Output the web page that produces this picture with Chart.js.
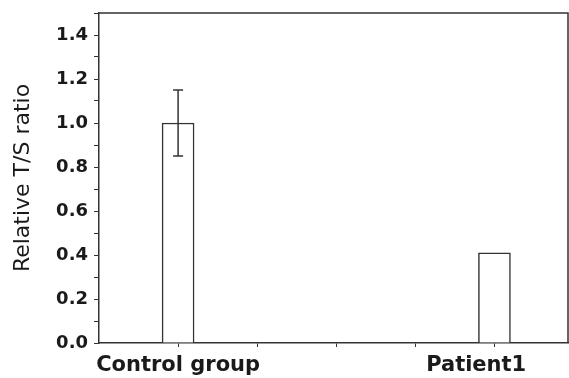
<!DOCTYPE html>
<html>
<head>
<meta charset="utf-8">
<script src="https://cdn.jsdelivr.net/npm/chart.js@4/dist/chart.umd.min.js"></script>
<style>
  html, body { margin: 0; padding: 0; background: #fff; }
  #wrap { width: 569px; height: 378px; }
</style>
</head>
<body>
<div id="wrap"><canvas id="chart"></canvas></div>
<script>
const categories = ['Control group', 'Patient1     '];
const positions = [1, 5];
const ratios = [1.0, 0.41];
const errors = [0.15, 0];
const xTicks = [1, 2, 3, 4, 5];

const AXIS_COLOR = '#333333';
const TEXT_COLOR = '#1a1a1a';

const frameAndErrors = {
  id: 'frameAndErrors',
  afterDatasetsDraw(chart) {
    const { ctx, chartArea, scales } = chart;
    ctx.save();
    ctx.strokeStyle = AXIS_COLOR;
    ctx.lineWidth = 1.5;
    ctx.beginPath();
    ctx.moveTo(chartArea.left, chartArea.top);
    ctx.lineTo(chartArea.right, chartArea.top);
    ctx.lineTo(chartArea.right, chartArea.bottom);
    ctx.stroke();

    // error bars
    positions.forEach((p, i) => {
      if (!errors[i]) return;
      const x = scales.x.getPixelForValue(p);
      const yHi = scales.y.getPixelForValue(ratios[i] + errors[i]);
      const yLo = scales.y.getPixelForValue(ratios[i] - errors[i]);
      ctx.beginPath();
      ctx.moveTo(x, yHi);
      ctx.lineTo(x, yLo);
      ctx.moveTo(x - 5, yHi);
      ctx.lineTo(x + 5, yHi);
      ctx.moveTo(x - 5, yLo);
      ctx.lineTo(x + 5, yLo);
      ctx.stroke();
    });
    ctx.restore();
  },
};

new Chart(document.getElementById('chart'), {
  type: 'bar',
  data: {
    datasets: [{
      data: positions.map((p, i) => ({ x: p, y: ratios[i] })),
      backgroundColor: '#ffffff',
      borderColor: AXIS_COLOR,
      borderWidth: 1.5,
      barThickness: 32,
    }],
  },
  options: {
    responsive: true,
    maintainAspectRatio: false,
    animation: false,
    layout: { padding: { top: 13, right: 1, left: 0, bottom: 0 } },
    plugins: { legend: { display: false }, tooltip: { enabled: false } },
    scales: {
      x: {
        type: 'linear',
        min: 0,
        max: 5.93,
        offset: false,
        afterBuildTicks: (scale) => { scale.ticks = xTicks.map(v => ({ value: v })); },
        afterFit: (scale) => { scale.height = 35; },
        border: { display: true, color: AXIS_COLOR, width: 1.5 },
        grid: { drawOnChartArea: false, drawTicks: true, tickLength: 4, tickColor: AXIS_COLOR, offset: false },
        ticks: {
          autoSkip: false,
          maxRotation: 0,
          padding: 6,
          color: TEXT_COLOR,
          font: { family: 'DejaVu Sans', weight: 'bold', size: 21 },
          callback: (v) => {
            const i = positions.indexOf(v);
            return i >= 0 ? categories[i] : '';
          },
        },
      },
      y: {
        min: 0,
        max: 1.5,
        afterFit: (scale) => {
          scale.width = 99;
          scale.paddingTop = 0;
        },
        border: { display: true, color: AXIS_COLOR, width: 1.5 },
        grid: { drawOnChartArea: false, drawTicks: true, tickLength: 5, tickColor: AXIS_COLOR },
        ticks: {
          stepSize: 0.1,
          autoSkip: false,
          padding: 6,
          color: TEXT_COLOR,
          font: { family: 'DejaVu Sans', weight: 'bold', size: 18 },
          callback: (v) => {
            const t = Math.round(v * 10);
            return t % 2 === 0 && t <= 14 ? (t / 10).toFixed(1) : '';
          },
        },
        title: {
          display: true,
          text: 'Relative T/S ratio',
          color: TEXT_COLOR,
          padding: { top: 10, bottom: 0 },
          font: { family: 'DejaVu Sans', size: 22 },
        },
      },
    },
  },
  plugins: [frameAndErrors],
});
</script>
</body>
</html>
